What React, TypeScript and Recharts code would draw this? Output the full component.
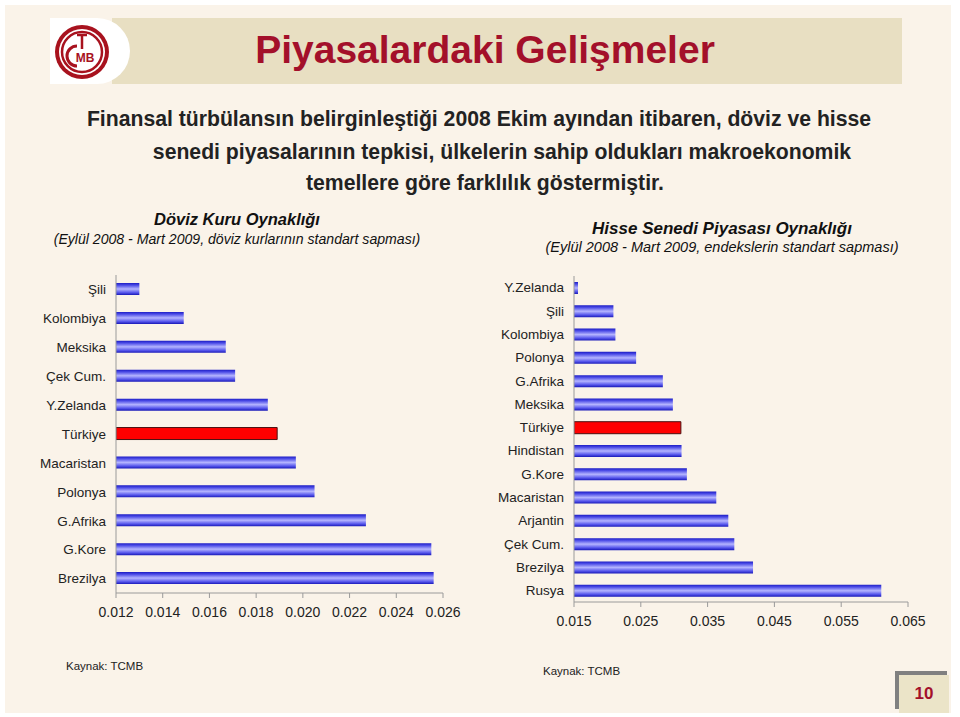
import React from 'react';
import { BarChart, Bar, XAxis, YAxis, Cell } from 'recharts';

// Döviz kuru oynaklığı (left)
const fxCountries = ['Şili', 'Kolombiya', 'Meksika', 'Çek Cum.', 'Y.Zelanda', 'Türkiye', 'Macaristan', 'Polonya', 'G.Afrika', 'G.Kore', 'Brezilya'];
const fxValues = [0.0130, 0.0149, 0.0167, 0.0171, 0.0185, 0.0189, 0.0197, 0.0205, 0.0227, 0.0255, 0.0256];
const fxTicks = [0.012, 0.014, 0.016, 0.018, 0.020, 0.022, 0.024, 0.026];

// Hisse senedi piyasası oynaklığı (right)
const eqCountries = ['Y.Zelanda', 'Şili', 'Kolombiya', 'Polonya', 'G.Afrika', 'Meksika', 'Türkiye', 'Hindistan', 'G.Kore', 'Macaristan', 'Arjantin', 'Çek Cum.', 'Brezilya', 'Rusya'];
const eqValues = [0.0156, 0.0209, 0.0212, 0.0243, 0.0283, 0.0298, 0.0310, 0.0311, 0.0319, 0.0363, 0.0381, 0.0390, 0.0418, 0.0610];
const eqTicks = [0.015, 0.025, 0.035, 0.045, 0.055, 0.065];

const fxData = fxCountries.map((name, i) => ({ name, value: fxValues[i] }));
const eqData = eqCountries.map((name, i) => ({ name, value: eqValues[i] }));

const FONT = '"Liberation Sans", Arial, sans-serif';
const catTick = { fill: '#222', fontSize: 13.5, fontFamily: FONT };
const numTick = { fill: '#222', fontSize: 14, fontFamily: FONT };

function BarDefs({ id }: { id: string }) {
  return (
    <defs>
      <linearGradient id={id} x1="0" y1="0" x2="0" y2="1">
        <stop offset="0%" stopColor="#1c1cc4" />
        <stop offset="18%" stopColor="#4a4ae6" />
        <stop offset="50%" stopColor="#b4b4ff" />
        <stop offset="80%" stopColor="#5656ec" />
        <stop offset="100%" stopColor="#1818b8" />
      </linearGradient>
    </defs>
  );
}

function HBarChart({ data, ticks, gradId, width, height, yWidth, margin }: any) {
  return (
    <BarChart layout="vertical" width={width} height={height} data={data} margin={margin}>
      <BarDefs id={gradId} />
      <XAxis
        type="number"
        domain={[ticks[0], ticks[ticks.length - 1]]}
        ticks={ticks}
        allowDataOverflow
        tickFormatter={(v: number) => v.toFixed(3)}
        tick={numTick}
        stroke="#9a9a9a"
        tickSize={5}
        tickMargin={9}
        height={36}
      />
      <YAxis
        type="category"
        dataKey="name"
        width={yWidth}
        tick={catTick}
        tickLine={false}
        stroke="#9a9a9a"
        tickMargin={4}
        interval={0}
      />
      <Bar dataKey="value" barSize={12} isAnimationActive={false}>
        {data.map((d: any, i: number) => (
          <Cell
            key={`c-${i}`}
            fill={d.name === 'Türkiye' ? '#ff0000' : `url(#${gradId})`}
            stroke={d.name === 'Türkiye' ? '#4a1010' : 'none'}
            strokeWidth={1}
          />
        ))}
      </Bar>
    </BarChart>
  );
}

function Logo() {
  return (
    <svg width={60} height={60} viewBox="0 0 60 60" style={{ position: 'absolute', left: 52, top: 22 }}>
      <circle cx={30} cy={30} r={27} fill="#a8121e" />
      <circle cx={30} cy={30} r={23} fill="#fff" />
      <circle cx={30} cy={30} r={20} fill="none" stroke="#a8121e" strokeWidth={2.5} />
      <path d="M 25 24 A 10 10 0 1 0 25 44" fill="none" stroke="#a8121e" strokeWidth={3} />
      <line x1={25} y1={13} x2={35} y2={13} stroke="#a8121e" strokeWidth={2.5} />
      <line x1={30} y1={13} x2={30} y2={27} stroke="#a8121e" strokeWidth={2.5} />
      <text x={33} y={40} textAnchor="middle" fontSize={12} fontWeight="bold" fill="#a8121e" fontFamily={FONT}>MB</text>
    </svg>
  );
}

export default function App() {
  const abs: React.CSSProperties = { position: 'absolute' };
  return (
    <div style={{ position: 'absolute', left: 0, top: 0, width: 960, height: 717, background: '#fff', fontFamily: FONT, overflow: 'hidden' }}>
      <div style={{ ...abs, left: 5, top: 5, width: 946, height: 708, background: '#faf3e9' }} />
      {/* header band */}
      <div style={{ ...abs, left: 112, top: 18, width: 790, height: 66, background: '#e8dfc2' }} />
      <div style={{ ...abs, left: 50, top: 18, width: 80, height: 66, background: '#fff', borderRadius: '0 40px 40px 0' }} />
      <Logo />
      <div style={{ ...abs, left: 160, top: 28, width: 650, textAlign: 'center', fontFamily: '"Liberation Sans Narrow", "Liberation Sans", Arial', fontWeight: 'bold', fontSize: 39, color: '#a3102a' }}>
        Piyasalardaki Gelişmeler
      </div>

      {/* body text */}
      <div style={{ ...abs, left: 0, top: 102, width: 960, textAlign: 'center', fontWeight: 'bold', fontSize: 21.2, color: '#222', lineHeight: '33px' }}>
        <div style={{ position: 'relative', left: -1 }}>Finansal türbülansın belirginleştiği 2008 Ekim ayından itibaren, döviz ve hisse</div>
        <div style={{ position: 'relative', left: 22 }}>senedi piyasalarının tepkisi, ülkelerin sahip oldukları makroekonomik</div>
        <div style={{ position: 'relative', left: 5, top: -2 }}>temellere göre farklılık göstermiştir.</div>
      </div>

      {/* chart titles */}
      <div style={{ ...abs, left: 37, top: 210, width: 400, textAlign: 'center', color: '#111' }}>
        <div style={{ fontWeight: 'bold', fontStyle: 'italic', fontSize: 16.5 }}>Döviz Kuru Oynaklığı</div>
        <div style={{ fontStyle: 'italic', fontSize: 14.1, marginTop: 2 }}>(Eylül 2008 - Mart 2009, döviz kurlarının standart sapması)</div>
      </div>
      <div style={{ ...abs, left: 522, top: 219, width: 400, textAlign: 'center', color: '#111' }}>
        <div style={{ fontWeight: 'bold', fontStyle: 'italic', fontSize: 17 }}>Hisse Senedi Piyasası Oynaklığı</div>
        <div style={{ fontStyle: 'italic', fontSize: 14.5, marginTop: 0 }}>(Eylül 2008 - Mart 2009, endekslerin standart sapması)</div>
      </div>

      {/* charts */}
      <div style={{ ...abs, left: 0, top: 265 }}>
        <HBarChart data={fxData} ticks={fxTicks} gradId="fxGrad" width={470} height={365} yWidth={116}
          margin={{ top: 10, right: 27, bottom: 1, left: 0 }} />
      </div>
      <div style={{ ...abs, left: 480, top: 266 }}>
        <HBarChart data={eqData} ticks={eqTicks} gradId="eqGrad" width={460} height={372} yWidth={94}
          margin={{ top: 10, right: 32, bottom: 0, left: 0 }} />
      </div>

      {/* footer */}
      <div style={{ ...abs, left: 66, top: 660, fontSize: 11.5, color: '#222' }}>Kaynak: TCMB</div>
      <div style={{ ...abs, left: 543, top: 665, fontSize: 11.5, color: '#222' }}>Kaynak: TCMB</div>
      <div style={{ ...abs, left: 895, top: 671, width: 52, height: 38, background: '#808080' }} />
      <div style={{ ...abs, left: 899, top: 675, width: 50, height: 38, background: '#ebe4c8', textAlign: 'center', lineHeight: '38px', fontWeight: 'bold', fontSize: 17, color: '#a3102a' }}>10</div>
    </div>
  );
}
